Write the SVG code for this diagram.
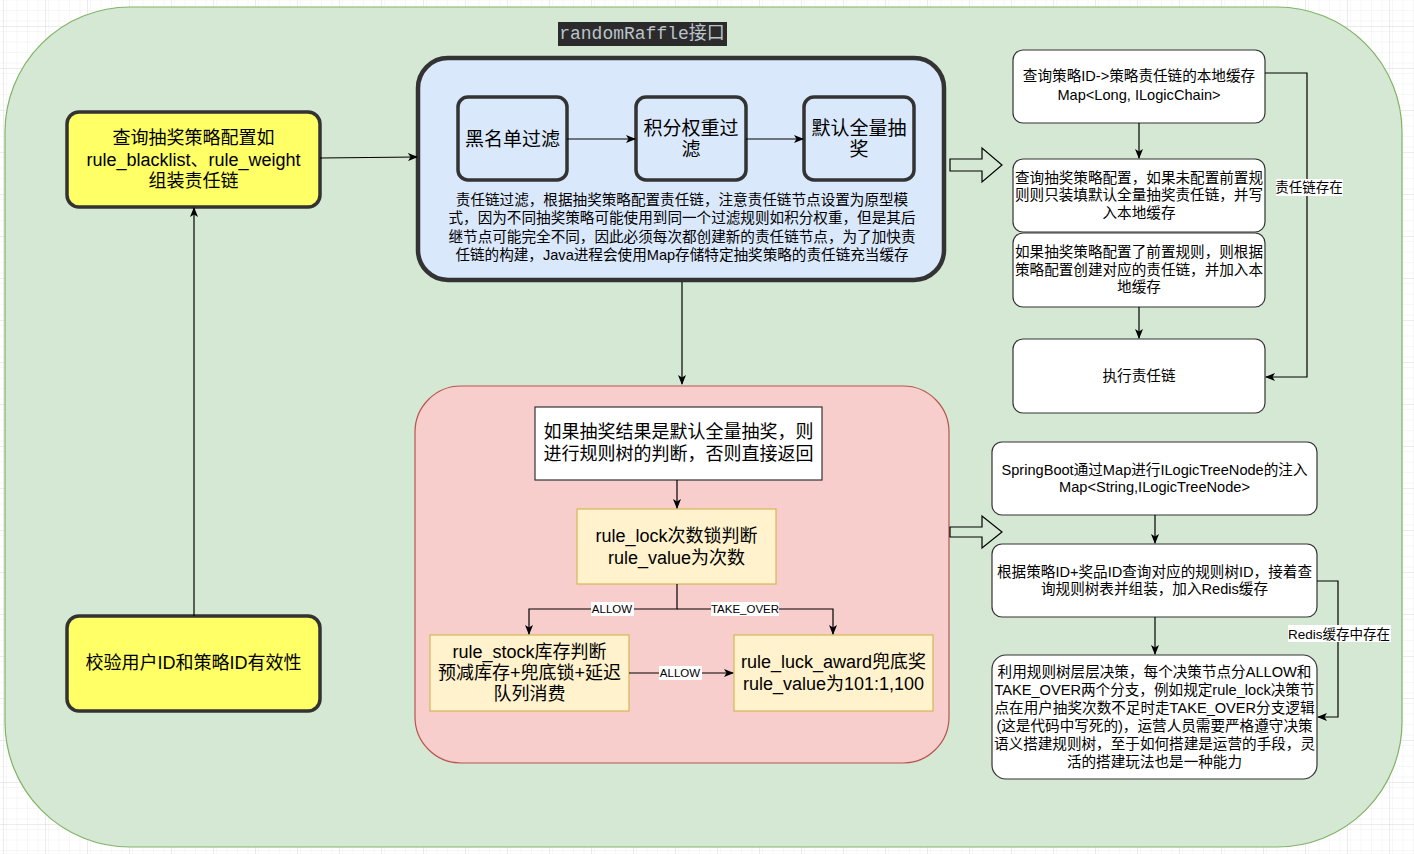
<svg xmlns="http://www.w3.org/2000/svg" width="1414" height="854" viewBox="0 0 1414 854">
<style>
text{font-family:"Liberation Sans","Noto Sans CJK SC",sans-serif;fill:#000;text-anchor:middle;dominant-baseline:central}
.s14{font-size:14.6px}
.s18{font-size:18px}
.s19{font-size:19px}
.lbl{font-size:11.5px}
.lbl2{font-size:13.5px}
.yel{fill:#ffff66;stroke:#333;stroke-width:3.5}
.inner{fill:#dae8fc;stroke:#333;stroke-width:3.5}
.wht{fill:#fff;stroke:#333;stroke-width:1.2}
.tree{fill:#fff2cc;stroke:#d6b656;stroke-width:1.2}
.edge{fill:none;stroke:#000;stroke-width:1.2}
.block{fill:none;stroke:#000;stroke-width:1.2}
</style>
<defs>
<pattern id="minor" width="10.5" height="10.5" patternUnits="userSpaceOnUse" x="3" y="26">
<path d="M0,0 H10.5 M0,0 V10.5" fill="none" stroke="#efefef" stroke-width="1"/>
</pattern>
<pattern id="grid" width="42" height="42" patternUnits="userSpaceOnUse" x="3" y="26">
<rect width="42" height="42" fill="url(#minor)"/>
<path d="M0,0 H42 M0,0 V42" fill="none" stroke="#d9d9d9" stroke-width="1"/>
</pattern>
<marker id="arr" markerWidth="10" markerHeight="8" refX="9" refY="4" orient="auto" markerUnits="userSpaceOnUse">
<path d="M0,0 L10,4 L0,8 L2.5,4 z" fill="#000"/>
</marker>
</defs>
<rect width="1414" height="854" fill="#fff"/>
<rect width="1414" height="854" fill="url(#grid)"/>
<g id="container">
<rect x="5" y="7" width="1397" height="840" rx="125" ry="125" fill="#d5e8d4" stroke="#82b366" stroke-width="1.2"/>
</g>
<g id="title">
<rect x="558" y="22" width="169" height="24" fill="#2b2b2b"/>
<text x="642" y="34" style="font-family:'Liberation Mono','Noto Sans CJK SC',monospace;font-size:18px;fill:#bcc3ca">randomRaffle接口</text>
</g>
<g id="node-query-config">
<rect class="yel" x="67" y="112" width="253" height="95" rx="12"/>
<text class="s18" x="193.5" y="138">查询抽奖策略配置如</text>
<text class="s18" x="193.5" y="160">rule_blacklist、rule_weight</text>
<text class="s18" x="193.5" y="181">组装责任链</text>
</g>
<g id="node-validate">
<rect class="yel" x="67" y="616" width="253" height="95" rx="12"/>
<text class="s18" x="193.5" y="663">校验用户ID和策略ID有效性</text>
</g>
<g id="node-chain">
<rect x="418" y="58" width="526" height="222" rx="30" fill="#dae8fc" stroke="#333" stroke-width="4.5"/>
<text class="s14" x="682" y="200">责任链过滤，根据抽奖策略配置责任链，注意责任链节点设置为原型模</text>
<text class="s14" x="682" y="218">式，因为不同抽奖策略可能使用到同一个过滤规则如积分权重，但是其后</text>
<text class="s14" x="682" y="237">继节点可能完全不同，因此必须每次都创建新的责任链节点，为了加快责</text>
<text class="s14" x="682" y="255">任链的构建，Java进程会使用Map存储特定抽奖策略的责任链充当缓存</text>
</g>
<g id="node-blacklist">
<rect class="inner" x="458" y="97" width="109" height="83" rx="10"/>
<text class="s19" x="512.5" y="139">黑名单过滤</text>
</g>
<g id="node-weight">
<rect class="inner" x="636" y="97" width="110" height="83" rx="10"/>
<text class="s19" x="691" y="128">积分权重过</text>
<text class="s19" x="691" y="149">滤</text>
</g>
<g id="node-default">
<rect class="inner" x="804" y="97" width="110" height="83" rx="10"/>
<text class="s19" x="859" y="128">默认全量抽</text>
<text class="s19" x="859" y="149">奖</text>
</g>
<g id="node-tree">
<rect x="415" y="386" width="534" height="377" rx="46" fill="#f8cecc" stroke="#b85450" stroke-width="1.2"/>
</g>
<g id="node-tree-check">
<rect x="535" y="407" width="287" height="73" fill="#fff" stroke="#333" stroke-width="1.2"/>
<text class="s18" x="678.5" y="432">如果抽奖结果是默认全量抽奖，则</text>
<text class="s18" x="678.5" y="454">进行规则树的判断，否则直接返回</text>
</g>
<g id="node-rule-lock">
<rect class="tree" x="577" y="509" width="199" height="75"/>
<text class="s18" x="676.5" y="536">rule_lock次数锁判断</text>
<text class="s18" x="676.5" y="558">rule_value为次数</text>
</g>
<g id="node-rule-stock">
<rect class="tree" x="430" y="635" width="199" height="76"/>
<text class="s18" x="529.5" y="652">rule_stock库存判断</text>
<text class="s18" x="529.5" y="673">预减库存+兜底锁+延迟</text>
<text class="s18" x="529.5" y="694">队列消费</text>
</g>
<g id="node-rule-luck">
<rect class="tree" x="734" y="635" width="199" height="76"/>
<text class="s18" x="833.5" y="662">rule_luck_award兜底奖</text>
<text class="s18" x="833.5" y="684">rule_value为101:1,100</text>
</g>
<g id="node-local-cache">
<rect class="wht" x="1013" y="50" width="252" height="73" rx="10"/>
<text class="s14" x="1139" y="76">查询策略ID-&gt;策略责任链的本地缓存</text>
<text class="s14" x="1139" y="95">Map&lt;Long, ILogicChain&gt;</text>
</g>
<g id="node-default-chain">
<rect class="wht" x="1013" y="159" width="252" height="73" rx="10"/>
<text class="s14" x="1139" y="178">查询抽奖策略配置，如果未配置前置规</text>
<text class="s14" x="1139" y="195">则则只装填默认全量抽奖责任链，并写</text>
<text class="s14" x="1139" y="213">入本地缓存</text>
</g>
<g id="node-build-chain">
<rect class="wht" x="1013" y="233" width="252" height="74" rx="10"/>
<text class="s14" x="1139" y="252">如果抽奖策略配置了前置规则，则根据</text>
<text class="s14" x="1139" y="270">策略配置创建对应的责任链，并加入本</text>
<text class="s14" x="1139" y="287">地缓存</text>
</g>
<g id="node-exec-chain">
<rect class="wht" x="1013" y="339" width="252" height="74" rx="10"/>
<text class="s14" x="1139" y="376">执行责任链</text>
</g>
<g id="node-springboot">
<rect class="wht" x="992" y="442" width="325" height="73" rx="10"/>
<text class="s14" x="1154.5" y="470">SpringBoot通过Map进行ILogicTreeNode的注入</text>
<text class="s14" x="1154.5" y="487">Map&lt;String,ILogicTreeNode&gt;</text>
</g>
<g id="node-query-tree">
<rect class="wht" x="992" y="544" width="325" height="73" rx="10"/>
<text class="s14" x="1154.5" y="572">根据策略ID+奖品ID查询对应的规则树ID，接着查</text>
<text class="s14" x="1154.5" y="589">询规则树表并组装，加入Redis缓存</text>
</g>
<g id="node-decide">
<rect class="wht" x="992" y="655" width="325" height="124" rx="14"/>
<text class="s14" x="1154.5" y="672">利用规则树层层决策，每个决策节点分ALLOW和</text>
<text class="s14" x="1154.5" y="690">TAKE_OVER两个分支，例如规定rule_lock决策节</text>
<text class="s14" x="1154.5" y="708">点在用户抽奖次数不足时走TAKE_OVER分支逻辑</text>
<text class="s14" x="1154.5" y="726">(这是代码中写死的)，运营人员需要严格遵守决策</text>
<text class="s14" x="1154.5" y="744">语义搭建规则树，至于如何搭建是运营的手段，灵</text>
<text class="s14" x="1154.5" y="762">活的搭建玩法也是一种能力</text>
</g>
<g id="connectors">
<path class="edge" d="M194,616 V208" marker-end="url(#arr)"/>
<path class="edge" d="M320,158 L417,157" marker-end="url(#arr)"/>
<path class="edge" d="M567,139 H635" marker-end="url(#arr)"/>
<path class="edge" d="M746,139 H803" marker-end="url(#arr)"/>
<path class="edge" d="M682,282 V384" marker-end="url(#arr)"/>
<path class="edge" d="M677,480 V508" marker-end="url(#arr)"/>
<path class="edge" d="M677,584 V609 H529 V634" marker-end="url(#arr)"/>
<path class="edge" d="M677,609 H833 V634" marker-end="url(#arr)"/>
<path class="edge" d="M629,673 H733" marker-end="url(#arr)"/>
<path class="edge" d="M1139,123 V158" marker-end="url(#arr)"/>
<path class="edge" d="M1139,307 V338" marker-end="url(#arr)"/>
<path class="edge" d="M1265,73 H1307 V377 H1266" marker-end="url(#arr)"/>
<path class="edge" d="M1155,515 V543" marker-end="url(#arr)"/>
<path class="edge" d="M1155,617 V654" marker-end="url(#arr)"/>
<path class="edge" d="M1317,581 H1338 V717 H1318" marker-end="url(#arr)"/>
<path class="block" d="M950,159 H982 V148 L1002,165 L982,182 V171 H950 Z"/>
<path class="block" d="M950,527 H982 V516 L1002,532 L982,548 V537 H950 Z"/>
<rect x="591" y="602" width="43" height="14" fill="#fff"/>
<text class="lbl" x="612" y="609">ALLOW</text>
<rect x="711" y="602" width="68" height="14" fill="#fff"/>
<text class="lbl" x="745" y="609">TAKE_OVER</text>
<rect x="659" y="666" width="43" height="14" fill="#fff"/>
<text class="lbl" x="680" y="673">ALLOW</text>
<rect x="1276" y="179" width="67" height="17" fill="#fff"/>
<text class="lbl2" x="1309" y="187">责任链存在</text>
<rect x="1288" y="625" width="103" height="17" fill="#fff"/>
<text class="lbl2" x="1339" y="634">Redis缓存中存在</text>
</g>
</svg>
